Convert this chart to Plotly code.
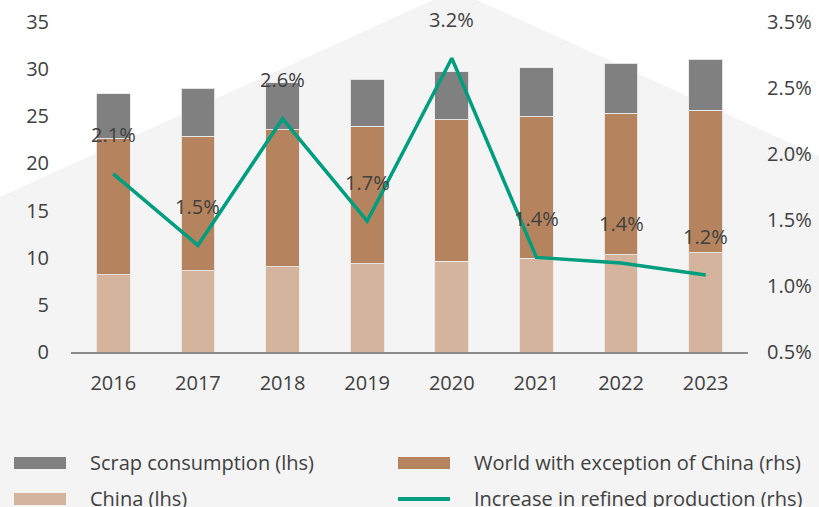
import numpy as np
import plotly.graph_objects as go

# ---------------- data ----------------
years = ["2016", "2017", "2018", "2019", "2020", "2021", "2022", "2023"]
china = [8.2, 8.6, 9.05, 9.35, 9.65, 9.95, 10.3, 10.55]
world_ex_china = [14.4, 14.3, 14.5, 14.6, 15.0, 15.0, 15.0, 15.1]
scrap = [4.8, 5.1, 5.0, 5.0, 5.1, 5.2, 5.3, 5.4]
refined_increase = [2.12, 1.47, 2.62, 1.69, 3.17, 1.36, 1.31, 1.20]
refined_labels = ["2.1%", "1.5%", "2.6%", "1.7%", "3.2%", "1.4%", "1.4%", "1.2%"]
left_ticks = [0, 5, 10, 15, 20, 25, 30, 35]
right_tick_text = ["0.5%", "1.0%", "1.5%", "2.0%", "2.5%", "3.5%"]

names = {
    "scrap": "Scrap consumption (lhs)",
    "world": "World with exception of China (rhs)",
    "china": "China (lhs)",
    "line": "Increase in refined production (rhs)",
}
colors = {
    "scrap": "#808080",
    "world": "#b5835d",
    "china": "#d4b49c",
    "line": "#009e7e",
}

# ---------------- layout geometry ----------------
W, H = 819, 507
L, R, T, B = 71, 71, 22, 155
PW, PH = W - L - R, H - T - B


def px(x):
    return (x - L) / PW


def py(y):
    return (H - B - y) / PH


FONT = "Open Sans"
TXT = "#404040"

fig = go.Figure()

edge = dict(color="rgba(235,235,235,0.9)", width=1)
fig.add_bar(x=years, y=china, name=names["china"], marker=dict(color=colors["china"], line=edge))
fig.add_bar(x=years, y=world_ex_china, name=names["world"], marker=dict(color=colors["world"], line=edge))
fig.add_bar(x=years, y=scrap, name=names["scrap"], marker=dict(color=colors["scrap"], line=edge))

fig.add_scatter(x=years, y=refined_increase, name=names["line"], mode="lines",
                line=dict(color=colors["line"], width=3.5), yaxis="y2")

r_lo, r_hi = 0.5, 3.5

# data labels for the line (x given as category index)
for i, (v, t) in enumerate(zip(refined_increase, refined_labels)):
    fig.add_annotation(x=i, y=v, xref="x", yref="y2", text=t, showarrow=False,
                       yshift=39, font=dict(family=FONT, size=20, color=TXT))

# house-shaped background
house = [(0, H), (0, 197), (455, -10), (W, 156), (W, H)]
path = "M " + " L ".join(f"{px(x):.4f},{py(y):.4f}" for x, y in house) + " Z"
shapes = [dict(type="path", path=path, xref="paper", yref="paper",
               fillcolor="#f4f4f4", line=dict(width=0), layer="below")]

# manual legend
leg_items = [
    ("scrap", 14, 463, "rect"),
    ("world", 398, 463, "rect"),
    ("china", 14, 499, "rect"),
    ("line", 398, 499, "line"),
]
for key, x0, yc, kind in leg_items:
    if kind == "rect":
        shapes.append(dict(type="rect", xref="paper", yref="paper",
                           x0=px(x0), x1=px(x0 + 52), y0=py(yc + 6), y1=py(yc - 6),
                           fillcolor=colors[key], line=dict(width=0)))
    else:
        shapes.append(dict(type="line", xref="paper", yref="paper",
                           x0=px(x0), x1=px(x0 + 52), y0=py(yc), y1=py(yc),
                           line=dict(color=colors[key], width=4)))
    fig.add_annotation(xref="paper", yref="paper", x=px(x0 + 74), y=py(yc - 1),
                       xanchor="left", yanchor="middle", text=names[key], showarrow=False,
                       font=dict(family=FONT, size=20, color=TXT))

fig.update_layout(
    template="none",
    width=W, height=H,
    margin=dict(l=L, r=R, t=T, b=B, pad=0, autoexpand=False),
    paper_bgcolor="white", plot_bgcolor="rgba(0,0,0,0)",
    barmode="stack", bargap=0.6,
    showlegend=False,
    font=dict(family=FONT, size=20, color=TXT),
    shapes=shapes,
    xaxis=dict(type="category", range=[-0.5, len(years) - 0.5], showline=True,
               linecolor="#8c8c8c", linewidth=1.5, showgrid=False,
               zeroline=False, automargin=False,
               ticks="", ticklabelstandoff=12, tickfont=dict(size=20, color=TXT)),
    yaxis=dict(range=[0, 35], tickvals=left_ticks, showgrid=False, zeroline=False,
               showline=False, ticks="", ticklabelstandoff=21, automargin=False,
               tickfont=dict(size=20, color=TXT)),
    yaxis2=dict(overlaying="y", side="right", range=[r_lo, r_hi],
                tickvals=[float(v) for v in np.linspace(r_lo, r_hi, len(right_tick_text))],
                ticktext=right_tick_text, showgrid=False, zeroline=False, showline=False,
                ticks="", ticklabelstandoff=18, automargin=False,
                tickfont=dict(size=20, color=TXT)),
)

fig.write_html("out.html", config={"displayModeBar": False},
               post_script="document.body.style.margin='0';")
